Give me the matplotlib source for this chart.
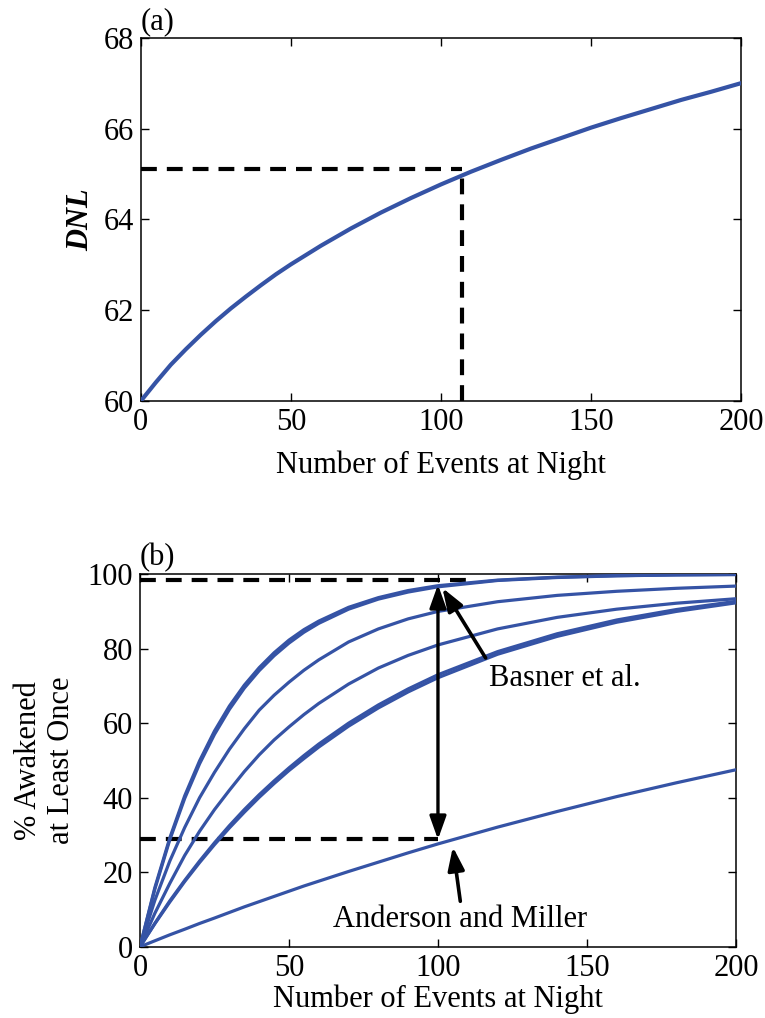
import numpy as np
import matplotlib
matplotlib.use('Agg')
from matplotlib import pyplot as plt

plt.rcParams['font.family'] = ['Liberation Serif', 'DejaVu Serif']

#=============================================================
# (a) DNL vs number of night events
events_a = [0, 5, 10, 15, 20, 25, 30, 35, 40, 45, 50, 60, 70, 80, 90, 100, 110, 120,
            130, 140, 150, 160, 170, 180, 190, 200]
dnl = [60.0, 60.41, 60.8, 61.14, 61.46, 61.76, 62.04, 62.3, 62.55, 62.79, 63.01,
       63.42, 63.8, 64.15, 64.47, 64.77, 65.05, 65.31, 65.56, 65.79, 66.02,
       66.23, 66.43, 66.63, 66.81, 67.0]
dnl_mark = (107, 65.1)

# (b) % awakened at least once
events_b = [0, 5, 10, 15, 20, 25, 30, 35, 40, 45, 50, 55, 60, 70, 80, 90, 100,
            120, 140, 160, 180, 200]
basner_1 = [0, 15.9, 29.2, 40.5, 49.9, 57.9, 64.6, 70.2, 74.9, 78.9, 82.3, 85.1,
            87.4, 91.1, 93.7, 95.6, 96.9, 98.4, 99.2, 99.6, 99.8, 99.9]
basner_2 = [0, 15.5, 28.7, 39.8, 49.1, 57.0, 63.7, 69.4, 74.1, 78.1, 81.5, 84.4,
            86.8, 90.6, 93.3, 95.2, 96.6, 98.3, 99.1, 99.55, 99.8, 99.9]
basner_3 = [0, 12.5, 23.0, 32.0, 40.0, 46.8, 53.0, 58.5, 63.5, 67.5, 71.0, 74.2,
            77.0, 81.8, 85.3, 88.0, 90.0, 92.6, 94.3, 95.4, 96.2, 96.8]
basner_4 = [0, 9.0, 17.0, 24.5, 31.0, 36.8, 42.0, 47.0, 51.5, 55.5, 59.0, 62.3,
            65.3, 70.5, 74.8, 78.2, 81.0, 85.3, 88.4, 90.6, 92.2, 93.4]
basner_5 = [0, 6.3, 12.3, 17.8, 23.0, 27.9, 32.5, 36.8, 40.8, 44.5, 48.0, 51.3,
            54.4, 60.0, 64.9, 69.2, 73.0, 79.2, 84.0, 87.7, 90.5, 92.7]
basner_6 = [0, 6.2, 12.0, 17.5, 22.6, 27.4, 31.9, 36.1, 40.1, 43.8, 47.3, 50.5,
            53.6, 59.2, 64.1, 68.4, 72.2, 78.5, 83.3, 87.1, 90.0, 92.3]
anderson = [0, 1.6, 3.2, 4.7, 6.25, 7.7, 9.2, 10.7, 12.1, 13.5, 14.9, 16.3,
            17.6, 20.2, 22.7, 25.2, 27.6, 32.1, 36.3, 40.3, 44.0, 47.5]
basner_level = 98.3
anderson_level = 29.0
#=============================================================

blue = '#3553a5'
fs = 22
dash = (3.8, 2.4)
head = dict(color='k', shrinkA=0, shrinkB=0, mutation_scale=10)

fig = plt.figure(figsize=(7.65, 10.18), dpi=100)
ax1 = fig.add_axes([0.184, 0.606, 0.785, 0.357])
ax2 = fig.add_axes([0.183, 0.070, 0.779, 0.366])

for ax in (ax1, ax2):
    ax.tick_params(direction='in', top=True, right=True, length=6, width=1,
                   labelsize=fs, pad=5)
    for s in ax.spines.values():
        s.set_linewidth(1.1)
    ax.set_xlim(0, 200)
    ax.set_xticks([0, 50, 100, 150, 200])

# Top panel
ax1.plot(events_a, dnl, color=blue, lw=3, zorder=3)
ax1.plot([0, dnl_mark[0]], [dnl_mark[1], dnl_mark[1]], 'k--', lw=3, dashes=dash)
ax1.plot([dnl_mark[0], dnl_mark[0]], [60, dnl_mark[1]], 'k--', lw=3, dashes=dash)
ax1.set_ylim(60, 68)
ax1.set_yticks([60, 62, 64, 66, 68])
ax1.set_ylabel('DNL', fontsize=fs, fontstyle='italic', fontweight='bold', labelpad=6)
ax1.set_xlabel('Number of Events at Night', fontsize=fs, labelpad=10)
ax1.text(0, 1.005, '(a)', transform=ax1.transAxes, fontsize=fs, va='bottom', ha='left')

# Bottom panel
for curve in (basner_1, basner_2, basner_3, basner_4, basner_5, basner_6, anderson):
    ax2.plot(events_b, curve, color=blue, lw=2.3, zorder=3)
ax2.plot([0, 110], [basner_level, basner_level], 'k--', lw=3, dashes=dash, clip_on=False)
ax2.plot([0, 100], [anderson_level, anderson_level], 'k--', lw=3, dashes=dash)
ax2.annotate('', xy=(100, 97.2), xytext=(100, 28.8),
             arrowprops=dict(arrowstyle='<|-|>,head_length=1.4,head_width=0.5',
                             lw=2.4, **head), zorder=4)
ax2.annotate('', xy=(101.5, 96.3), xytext=(116, 77.5),
             arrowprops=dict(arrowstyle='-|>,head_length=1.4,head_width=0.5',
                             lw=2.6, **head), zorder=4)
ax2.annotate('', xy=(105, 26.8), xytext=(107.5, 12.2),
             arrowprops=dict(arrowstyle='-|>,head_length=1.4,head_width=0.5',
                             lw=2.6, **head), zorder=4)
ax2.text(117, 72, 'Basner et al.', fontsize=fs, va='center', ha='left')
ax2.text(107.5, 7.3, 'Anderson and Miller', fontsize=fs, va='center', ha='center')
ax2.set_ylim(0, 100)
ax2.set_yticks([0, 20, 40, 60, 80, 100])
ax2.set_ylabel('% Awakened\nat Least Once', fontsize=fs, labelpad=8, linespacing=1.2)
ax2.set_xlabel('Number of Events at Night', fontsize=fs, labelpad=1)
ax2.text(0, 1.005, '(b)', transform=ax2.transAxes, fontsize=fs, va='bottom', ha='left')

plt.savefig('out.png', dpi=100)
